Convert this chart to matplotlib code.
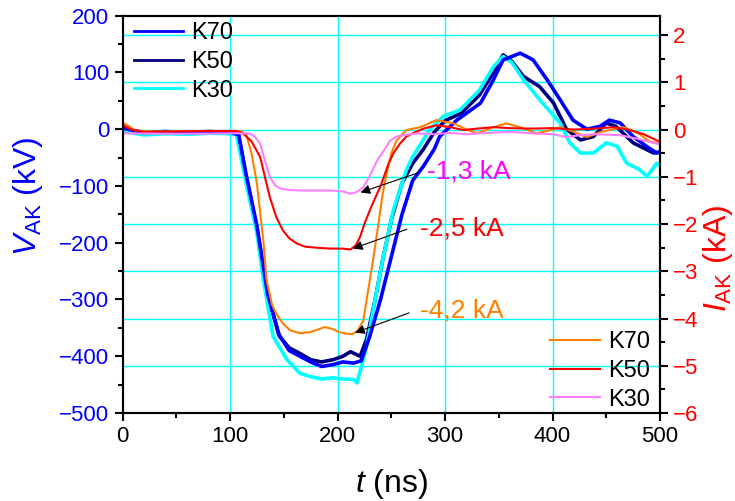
import matplotlib
matplotlib.use('Agg')
import matplotlib.pyplot as plt
from matplotlib.ticker import MultipleLocator
from matplotlib.transforms import blended_transform_factory

plt.rcParams['font.family'] = ['Liberation Sans', 'DejaVu Sans']
plt.rcParams['mathtext.fontset'] = 'custom'
plt.rcParams['mathtext.rm'] = 'Liberation Sans'
plt.rcParams['mathtext.it'] = 'Liberation Sans:italic'

# Voltage V_AK (kV)
t_v70 = [0, 20, 40, 60, 80, 100, 108, 115, 125, 135, 145, 155, 165, 175, 185, 195, 205, 215, 222,
         230, 240, 250, 260, 270, 280, 290, 295, 311, 333, 345, 354, 370, 382, 395, 407, 419, 432,
         444, 453, 463, 475, 488, 497, 500]
v_k70 = [2, -6, -4, -6, -5, -5, -10, -80, -170, -290, -360, -390, -400, -410, -418, -415, -410, -412, -408,
         -365, -300, -225, -150, -90, -65, -35, -13, 16, 46, 87, 122, 134, 122, 87, 52, 16, 0,
         5, 16, 11, -13, -31, -42, -40]

t_v50 = [0, 20, 40, 60, 80, 100, 108, 115, 125, 135, 146, 155, 165, 175, 185, 196, 205, 212, 221,
         227, 235, 242, 250, 260, 270, 280, 290, 300, 315, 332, 345, 354, 362, 373, 388, 401, 413,
         426, 438, 450, 459, 475, 494, 500]
v_k50 = [0, -8, -5, -7, -4, -6, -10, -85, -175, -290, -365, -385, -395, -406, -410, -406, -400, -392, -400,
         -370, -300, -230, -160, -95, -60, -35, -5, 15, 28, 60, 100, 131, 120, 93, 75, 46, 0,
         -19, -13, 11, 5, -24, -42, -40]

t_v30 = [0, 20, 40, 60, 80, 100, 106, 115, 125, 131, 140, 153, 165, 175, 185, 195, 205, 215, 218,
         222, 227, 235, 242, 252, 264, 270, 286, 298, 314, 332, 345, 354, 362, 373, 388, 407, 416,
         426, 438, 450, 460, 469, 480, 488, 497, 500]
v_k30 = [-4, -10, -8, -9, -7, -8, -10, -95, -183, -265, -365, -406, -430, -436, -440, -438, -440, -441, -447,
         -420, -383, -300, -230, -142, -72, -48, 0, 22, 34, 69, 110, 128, 118, 87, 52, 11, -24,
         -42, -42, -24, -30, -60, -70, -83, -60, -65]

# Current I_AK (kA)
t_i70 = [0, 5, 12, 30, 60, 90, 110, 115, 120, 125, 131, 134, 139, 143, 149, 156, 165, 174, 181, 188,
         195, 202, 208, 214, 219, 224, 230, 233, 238, 242, 246, 250, 255, 264, 277, 292, 308, 320,
         330, 345, 357, 370, 385, 397, 407, 420, 432, 445, 455, 466, 478, 490, 500]
i_k70 = [0.15, 0.08, -0.02, -0.04, -0.03, -0.03, -0.03, -0.1, -0.5, -1.14, -2.35, -3.19, -3.7, -3.9, -4.1,
         -4.25, -4.31, -4.29, -4.24, -4.18, -4.22, -4.29, -4.32, -4.33, -4.25, -4.04, -3.19, -2.77, -2.0,
         -1.36, -0.9, -0.5, -0.23, -0.01, 0.05, 0.2, 0.13, 0.0, -0.08, 0.05, 0.13, 0.05, -0.08, -0.02,
         0.05, -0.05, -0.16, -0.05, 0.0, 0.05, -0.05, -0.25, -0.3]

t_i50 = [0, 8, 20, 50, 80, 105, 112, 120, 128, 137, 143, 149, 155, 162, 170, 180, 193, 205, 212, 217,
         221, 225, 230, 235, 240, 247, 252, 258, 264, 270, 280, 292, 305, 317, 330, 345, 360, 380,
         400, 420, 440, 456, 470, 485, 497, 500]
i_k50 = [0.1, 0.0, -0.05, -0.04, -0.03, -0.03, -0.08, -0.25, -0.58, -1.43, -1.85, -2.13, -2.3, -2.41,
         -2.48, -2.5, -2.52, -2.52, -2.54, -2.45, -2.27, -2.0, -1.71, -1.45, -1.2, -0.75, -0.5, -0.3,
         -0.15, -0.08, 0.02, 0.09, 0.05, -0.01, 0.02, 0.05, 0.03, 0.02, 0.03, 0.0, 0.02, 0.05, 0.0,
         -0.1, -0.23, -0.25]

t_i30 = [0, 50, 100, 118, 123, 128, 133, 137, 142, 147, 155, 165, 180, 193, 205, 212, 218, 224, 230,
         237, 243, 249, 255, 261, 275, 290, 305, 320, 340, 360, 380, 400, 413, 425, 440, 463, 480,
         497, 500]
i_k30 = [-0.08, -0.09, -0.08, -0.08, -0.15, -0.3, -0.7, -1.0, -1.18, -1.25, -1.28, -1.29, -1.29, -1.29,
         -1.31, -1.36, -1.32, -1.22, -0.98, -0.65, -0.45, -0.23, -0.15, -0.12, -0.08, -0.1, -0.07,
         -0.1, -0.07, -0.05, -0.08, -0.1, -0.16, -0.12, -0.1, -0.12, -0.2, -0.3, -0.3]

# peak current labels: text, text position, arrow head, arrow tail
ann_text = ['-1,3 kA', '-2,5 kA', '-4,2 kA']
ann_color = ['#FF00FF', '#FF0000', '#FF8000']
ann_xy_text = [(283, -0.88), (277, -2.09), (277, -3.83)]
ann_xy_head = [(219, -1.35), (212, -2.54), (214, -4.32)]
ann_tail = [(277, -0.9), (267, -2.09), (269, -3.86)]

fig = plt.figure(figsize=(7.35, 5.01), dpi=100)
ax1 = fig.add_axes([0.1667, 0.1756, 0.7313, 0.7931])
ax2 = ax1.twinx()

ax1.set_xlim(0, 500)
ax1.set_ylim(-500, 200)
ax2.set_ylim(-6, 2.41)

# cyan grid: vertical at x major ticks, horizontal at the current axis ticks
i_grid = [2, 1, 0, -1, -2, -3, -4, -5]
t_grid = [100, 200, 300, 400]
for tg in t_grid:
    ax1.axvline(tg, color='#00FFFF', lw=1.0, zorder=0)
trans = blended_transform_factory(ax1.transAxes, ax2.transData)
for ig in i_grid:
    ax1.plot([0, 1], [ig, ig], color='#00FFFF', lw=1.0, transform=trans, zorder=0)

lv1, = ax1.plot(t_v70, v_k70, color='#0000FF', lw=2.6, label='K70')
lv2, = ax1.plot(t_v50, v_k50, color='#000080', lw=2.6, label='K50')
lv3, = ax1.plot(t_v30, v_k30, color='#00FFFF', lw=2.6, label='K30')
lv1.set_zorder(3)

li1, = ax2.plot(t_i70, i_k70, color='#FF8000', lw=1.5, label='K70')
li2, = ax2.plot(t_i50, i_k50, color='#FF0000', lw=1.5, label='K50')
li3, = ax2.plot(t_i30, i_k30, color='#FF80FF', lw=1.5, label='K30')

for txt, col, xyt, head, tail in zip(ann_text, ann_color, ann_xy_text, ann_xy_head, ann_tail):
    ax2.text(xyt[0], xyt[1], txt, color=col, fontsize=19, va='center', ha='left')
    ax2.annotate('', xy=head, xytext=tail,
                 arrowprops=dict(arrowstyle='-|>', color='black', lw=0.8, mutation_scale=14))

leg1 = ax1.legend(handles=[lv1, lv2, lv3], loc='upper left', frameon=False, fontsize=17,
                  handlelength=2.1, handletextpad=0.35, labelspacing=0.28,
                  borderaxespad=0.0, borderpad=0.2, bbox_to_anchor=(0.012, 0.995))
for h in leg1.legend_handles:
    h.set_linewidth(2.0)
leg2 = ax2.legend(handles=[li1, li2, li3], loc='lower right', frameon=False, fontsize=17,
                  handlelength=2.1, handletextpad=0.35, labelspacing=0.28,
                  borderaxespad=0.0, borderpad=0.2, bbox_to_anchor=(0.99, -0.006))

ax1.xaxis.set_major_locator(MultipleLocator(100))
ax1.xaxis.set_minor_locator(MultipleLocator(50))
ax1.yaxis.set_major_locator(MultipleLocator(100))
ax1.yaxis.set_minor_locator(MultipleLocator(50))
ax2.yaxis.set_major_locator(MultipleLocator(1))
ax2.yaxis.set_minor_locator(MultipleLocator(0.5))

ax1.tick_params(axis='both', which='major', direction='out', length=6, width=1.5, labelsize=16)
ax1.tick_params(axis='both', which='minor', direction='out', length=3.5, width=1.5)
ax1.tick_params(axis='y', labelcolor='#0000FF')
ax1.tick_params(axis='x', labelcolor='black', top=False)
ax2.tick_params(axis='y', which='major', direction='out', length=6, width=1.5, labelsize=16,
                labelcolor='#FF0000')
ax2.tick_params(axis='y', which='minor', direction='out', length=3.5, width=1.5)

for ax in (ax1, ax2):
    for s in ax.spines.values():
        s.set_linewidth(1.5)
ax1.spines['left'].set_color('#333333')

ax1.set_xlabel(r'$t$ (ns)', fontsize=23, labelpad=14)
ax1.set_ylabel(r'$V_{\mathrm{AK}}$ (kV)', fontsize=23, color='#0000FF')
ax2.set_ylabel(r'$I_{\mathrm{AK}}$ (kA)', fontsize=23, color='#FF0000')
ax1.yaxis.set_label_coords(-0.145, 0.545)
ax2.yaxis.set_label_coords(1.077, 0.39)

fig.savefig('out.png', dpi=100)
